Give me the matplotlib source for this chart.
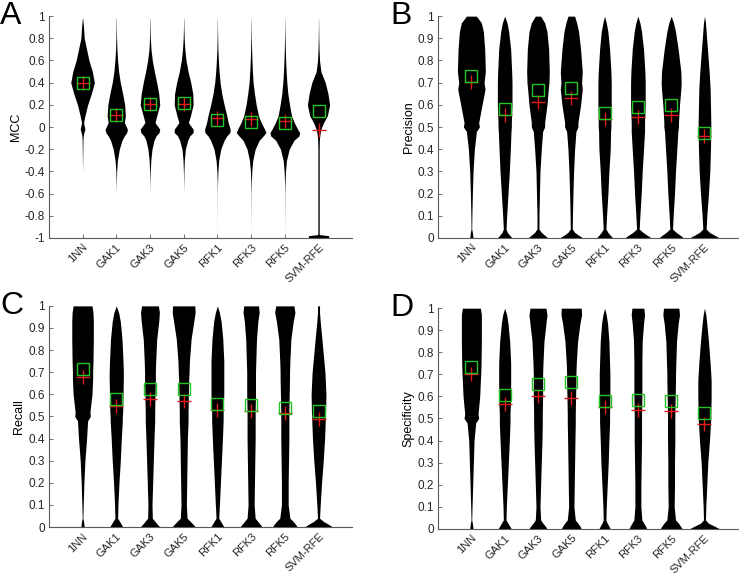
import numpy as np
import matplotlib.pyplot as plt

plt.rcParams['font.family'] = ['Liberation Sans', 'DejaVu Sans']

METHODS = ['1NN', 'GAK1', 'GAK3', 'GAK5', 'RFK1', 'RFK3', 'RFK5', 'SVM-RFE']

# ---- Panel A: MCC (violin half-widths read at these levels) ----
MCC_LEVELS = [0.98, 0.9, 0.8, 0.7, 0.6, 0.5, 0.4, 0.3, 0.2, 0.1, 0.04, -0.02,
              -0.05, -0.08, -0.12, -0.2, -0.3, -0.4, -0.5, -0.6, -0.97, -0.98, -1.0]
MCC_WIDTH = {
    '1NN':     [0.005, 0.03, 0.05, 0.12, 0.19, 0.29, 0.35, 0.26, 0.15, 0.07, 0.03, 0.07,
                0.04, 0.02, 0.012, 0.008, 0.004, 0, 0, 0, 0, 0, 0],
    'GAK1':    [0.003, 0.005, 0.01, 0.02, 0.04, 0.07, 0.12, 0.19, 0.25, 0.27, 0.24, 0.33,
                0.31, 0.24, 0.17, 0.09, 0.035, 0.012, 0.004, 0, 0, 0, 0],
    'GAK3':    [0.003, 0.006, 0.012, 0.03, 0.07, 0.13, 0.2, 0.26, 0.29, 0.2, 0.15, 0.29,
                0.27, 0.18, 0.12, 0.06, 0.025, 0.01, 0.003, 0, 0, 0, 0],
    'GAK5':    [0.003, 0.006, 0.015, 0.035, 0.07, 0.13, 0.21, 0.27, 0.28, 0.2, 0.14, 0.28,
                0.28, 0.18, 0.12, 0.05, 0.02, 0.008, 0.003, 0, 0, 0, 0],
    'RFK1':    [0.002, 0.004, 0.008, 0.015, 0.03, 0.05, 0.08, 0.13, 0.2, 0.28, 0.32, 0.38,
                0.37, 0.28, 0.2, 0.1, 0.04, 0.015, 0.005, 0.002, 0, 0, 0],
    'RFK3':    [0.002, 0.004, 0.008, 0.015, 0.025, 0.04, 0.06, 0.1, 0.15, 0.22, 0.3, 0.4,
                0.44, 0.36, 0.24, 0.12, 0.05, 0.02, 0.008, 0.003, 0, 0, 0],
    'RFK5':    [0.002, 0.004, 0.008, 0.015, 0.025, 0.04, 0.06, 0.09, 0.14, 0.2, 0.28, 0.38,
                0.44, 0.42, 0.27, 0.13, 0.05, 0.02, 0.008, 0.003, 0, 0, 0],
    'SVM-RFE': [0.002, 0.004, 0.008, 0.015, 0.03, 0.07, 0.2, 0.28, 0.33, 0.26, 0.15, 0.07,
                0.05, 0.035, 0.025, 0.02, 0.02, 0.02, 0.02, 0.02, 0.02, 0.3, 0.3],
}
MCC_MEDIAN = [0.40, 0.105, 0.21, 0.215, 0.063, 0.048, 0.033, 0.144]
MCC_MEAN = [0.40, 0.11, 0.205, 0.21, 0.077, 0.068, 0.058, -0.027]

# ---- Panels B-D share one set of levels ----
LEVELS = [1.0, 0.97, 0.93, 0.85, 0.75, 0.7, 0.67, 0.6, 0.52, 0.5, 0.48, 0.4, 0.3,
          0.2, 0.1, 0.04, 0.025, 0.012, 0.0]

PREC_WIDTH = {
    '1NN':     [0.15, 0.3, 0.36, 0.4, 0.42, 0.38, 0.41, 0.32, 0.22, 0.24, 0.15, 0.09, 0.05,
                0.03, 0.015, 0.01, 0.03, 0.04, 0.05],
    'GAK1':    [0.0, 0.07, 0.12, 0.18, 0.21, 0.22, 0.22, 0.22, 0.2, 0.2, 0.19, 0.17, 0.14,
                0.1, 0.06, 0.04, 0.08, 0.15, 0.22],
    'GAK3':    [0.08, 0.2, 0.27, 0.32, 0.34, 0.33, 0.31, 0.27, 0.2, 0.2, 0.14, 0.1, 0.06,
                0.045, 0.03, 0.03, 0.1, 0.2, 0.3],
    'GAK5':    [0.1, 0.16, 0.22, 0.28, 0.33, 0.31, 0.33, 0.28, 0.2, 0.2, 0.14, 0.1, 0.07,
                0.05, 0.035, 0.03, 0.1, 0.22, 0.35],
    'RFK1':    [0.0, 0.05, 0.1, 0.15, 0.19, 0.2, 0.2, 0.2, 0.19, 0.19, 0.18, 0.17, 0.13,
                0.1, 0.06, 0.04, 0.1, 0.17, 0.25],
    'RFK3':    [0.0, 0.06, 0.11, 0.17, 0.21, 0.22, 0.22, 0.22, 0.2, 0.2, 0.2, 0.17, 0.13,
                0.1, 0.06, 0.04, 0.15, 0.28, 0.4],
    'RFK5':    [0.0, 0.07, 0.13, 0.21, 0.29, 0.3, 0.29, 0.25, 0.22, 0.22, 0.2, 0.17, 0.13,
                0.1, 0.06, 0.04, 0.15, 0.27, 0.37],
    'SVM-RFE': [0.0, 0.03, 0.05, 0.09, 0.14, 0.16, 0.17, 0.18, 0.19, 0.19, 0.19, 0.18, 0.16,
                0.12, 0.07, 0.05, 0.15, 0.3, 0.45],
}
PREC_MEDIAN = [0.73, 0.58, 0.665, 0.675, 0.563, 0.588, 0.60, 0.473]
PREC_MEAN = [0.705, 0.552, 0.615, 0.632, 0.538, 0.546, 0.556, 0.46]

REC_WIDTH = {
    '1NN':     [0.28, 0.31, 0.32, 0.32, 0.31, 0.3, 0.3, 0.28, 0.22, 0.23, 0.15, 0.12, 0.07,
                0.04, 0.02, 0.01, 0.03, 0.04, 0.05],
    'GAK1':    [0.0, 0.07, 0.12, 0.17, 0.2, 0.21, 0.21, 0.2, 0.19, 0.18, 0.18, 0.15, 0.12,
                0.08, 0.05, 0.04, 0.1, 0.15, 0.2],
    'GAK3':    [0.25, 0.28, 0.26, 0.2, 0.17, 0.16, 0.16, 0.15, 0.14, 0.14, 0.14, 0.12, 0.1,
                0.08, 0.06, 0.07, 0.15, 0.22, 0.3],
    'GAK5':    [0.33, 0.34, 0.3, 0.22, 0.17, 0.16, 0.15, 0.14, 0.13, 0.13, 0.13, 0.11, 0.1,
                0.09, 0.08, 0.1, 0.2, 0.28, 0.35],
    'RFK1':    [0.0, 0.06, 0.11, 0.16, 0.19, 0.19, 0.19, 0.19, 0.17, 0.17, 0.17, 0.15, 0.12,
                0.09, 0.06, 0.04, 0.1, 0.15, 0.2],
    'RFK3':    [0.22, 0.24, 0.2, 0.16, 0.14, 0.13, 0.13, 0.13, 0.12, 0.12, 0.12, 0.12, 0.11,
                0.1, 0.09, 0.12, 0.2, 0.27, 0.33],
    'RFK5':    [0.27, 0.3, 0.25, 0.18, 0.15, 0.14, 0.14, 0.13, 0.12, 0.12, 0.12, 0.12, 0.11,
                0.1, 0.1, 0.15, 0.25, 0.32, 0.37],
    'SVM-RFE': [0.03, 0.03, 0.05, 0.1, 0.16, 0.19, 0.2, 0.22, 0.21, 0.2, 0.2, 0.18, 0.14,
                0.09, 0.05, 0.03, 0.15, 0.3, 0.42],
}
REC_MEDIAN = [0.715, 0.58, 0.625, 0.625, 0.555, 0.55, 0.54, 0.525]
REC_MEAN = [0.68, 0.545, 0.58, 0.57, 0.53, 0.525, 0.515, 0.49]

SPEC_WIDTH = {
    '1NN':     [0.27, 0.3, 0.3, 0.3, 0.29, 0.28, 0.27, 0.25, 0.2, 0.22, 0.13, 0.08, 0.06,
                0.04, 0.02, 0.01, 0.03, 0.04, 0.05],
    'GAK1':    [0.0, 0.06, 0.1, 0.15, 0.18, 0.18, 0.18, 0.18, 0.16, 0.16, 0.16, 0.14, 0.11,
                0.08, 0.05, 0.04, 0.1, 0.15, 0.2],
    'GAK3':    [0.24, 0.27, 0.24, 0.18, 0.15, 0.14, 0.14, 0.14, 0.13, 0.13, 0.13, 0.12, 0.1,
                0.08, 0.06, 0.08, 0.15, 0.22, 0.27],
    'GAK5':    [0.3, 0.31, 0.26, 0.19, 0.15, 0.14, 0.14, 0.13, 0.12, 0.12, 0.12, 0.11, 0.1,
                0.09, 0.08, 0.12, 0.2, 0.26, 0.3],
    'RFK1':    [0.0, 0.05, 0.09, 0.13, 0.15, 0.16, 0.16, 0.16, 0.15, 0.15, 0.15, 0.13, 0.11,
                0.08, 0.05, 0.04, 0.08, 0.13, 0.17],
    'RFK3':    [0.18, 0.2, 0.17, 0.13, 0.12, 0.12, 0.12, 0.12, 0.11, 0.11, 0.11, 0.11, 0.1,
                0.09, 0.09, 0.12, 0.18, 0.23, 0.27],
    'RFK5':    [0.23, 0.25, 0.21, 0.16, 0.14, 0.13, 0.13, 0.12, 0.11, 0.11, 0.11, 0.11, 0.1,
                0.1, 0.09, 0.13, 0.22, 0.28, 0.33],
    'SVM-RFE': [0.0, 0.04, 0.07, 0.12, 0.17, 0.19, 0.2, 0.2, 0.19, 0.19, 0.18, 0.15, 0.1,
                0.07, 0.04, 0.03, 0.12, 0.3, 0.45],
}
SPEC_MEDIAN = [0.735, 0.605, 0.655, 0.665, 0.58, 0.585, 0.58, 0.525]
SPEC_MEAN = [0.70, 0.565, 0.60, 0.595, 0.55, 0.54, 0.535, 0.475]

GREEN = '#22c422'
RED = '#e01a1a'
AXIS_GREY = '#5a5a5a'


def tick_text(t):
    t = round(float(t), 1)
    if t == 0:
        return '0'
    return '%g' % t


def violin_panel(ax, levels, widths, medians, means, ylabel, letter, ylim, yticks):
    y = np.array(levels)
    for i, m in enumerate(METHODS):
        w = np.array(widths[m])
        x = i + 1
        ax.fill_betweenx(y, x - w, x + w, color='black', lw=0, zorder=2)
    xs = np.arange(1, len(METHODS) + 1)
    ax.plot(xs, means, '+', color=RED, ms=10, mew=1.0, zorder=3)
    ax.plot(xs, medians, 's', mfc='none', mec=GREEN, ms=8, mew=1.0, zorder=4)

    ax.set_xlim(0, 9)
    ax.set_ylim(*ylim)
    ax.set_xticks(xs)
    ax.set_xticklabels(METHODS, rotation=45, ha='right', rotation_mode='anchor',
                       fontsize=8)
    ax.set_yticks(yticks)
    ax.set_yticklabels([tick_text(t) for t in yticks], fontsize=8.5)
    ax.set_ylabel(ylabel, fontsize=9, labelpad=2)
    for s in ('top', 'right'):
        ax.spines[s].set_visible(False)
    for s in ('left', 'bottom'):
        ax.spines[s].set_color(AXIS_GREY)
        ax.spines[s].set_linewidth(0.8)
    ax.tick_params(direction='in', length=3, width=0.6, color=AXIS_GREY,
                   labelcolor='#262626', pad=3)
    ax.text(-0.16, 1.0, letter, transform=ax.transAxes, fontsize=23,
            va='center', ha='left')


fig = plt.figure(figsize=(7.4, 5.76), dpi=100)
axA = fig.add_axes([0.066, 0.587, 0.41, 0.385])
axB = fig.add_axes([0.592, 0.587, 0.405, 0.385])
axC = fig.add_axes([0.066, 0.085, 0.41, 0.384])
axD = fig.add_axes([0.592, 0.082, 0.405, 0.383])

ticks_mcc = np.round(np.arange(-1, 1.01, 0.2), 1)
ticks_01 = np.round(np.arange(0, 1.01, 0.1), 1)

violin_panel(axA, MCC_LEVELS, MCC_WIDTH, MCC_MEDIAN, MCC_MEAN, 'MCC', 'A', (-1, 1), ticks_mcc)
violin_panel(axB, LEVELS, PREC_WIDTH, PREC_MEDIAN, PREC_MEAN, 'Precision', 'B', (0, 1), ticks_01)
violin_panel(axC, LEVELS, REC_WIDTH, REC_MEDIAN, REC_MEAN, 'Recall', 'C', (0, 1), ticks_01)
violin_panel(axD, LEVELS, SPEC_WIDTH, SPEC_MEDIAN, SPEC_MEAN, 'Specificity', 'D', (0, 1), ticks_01)

fig.savefig('out.png', dpi=100)
